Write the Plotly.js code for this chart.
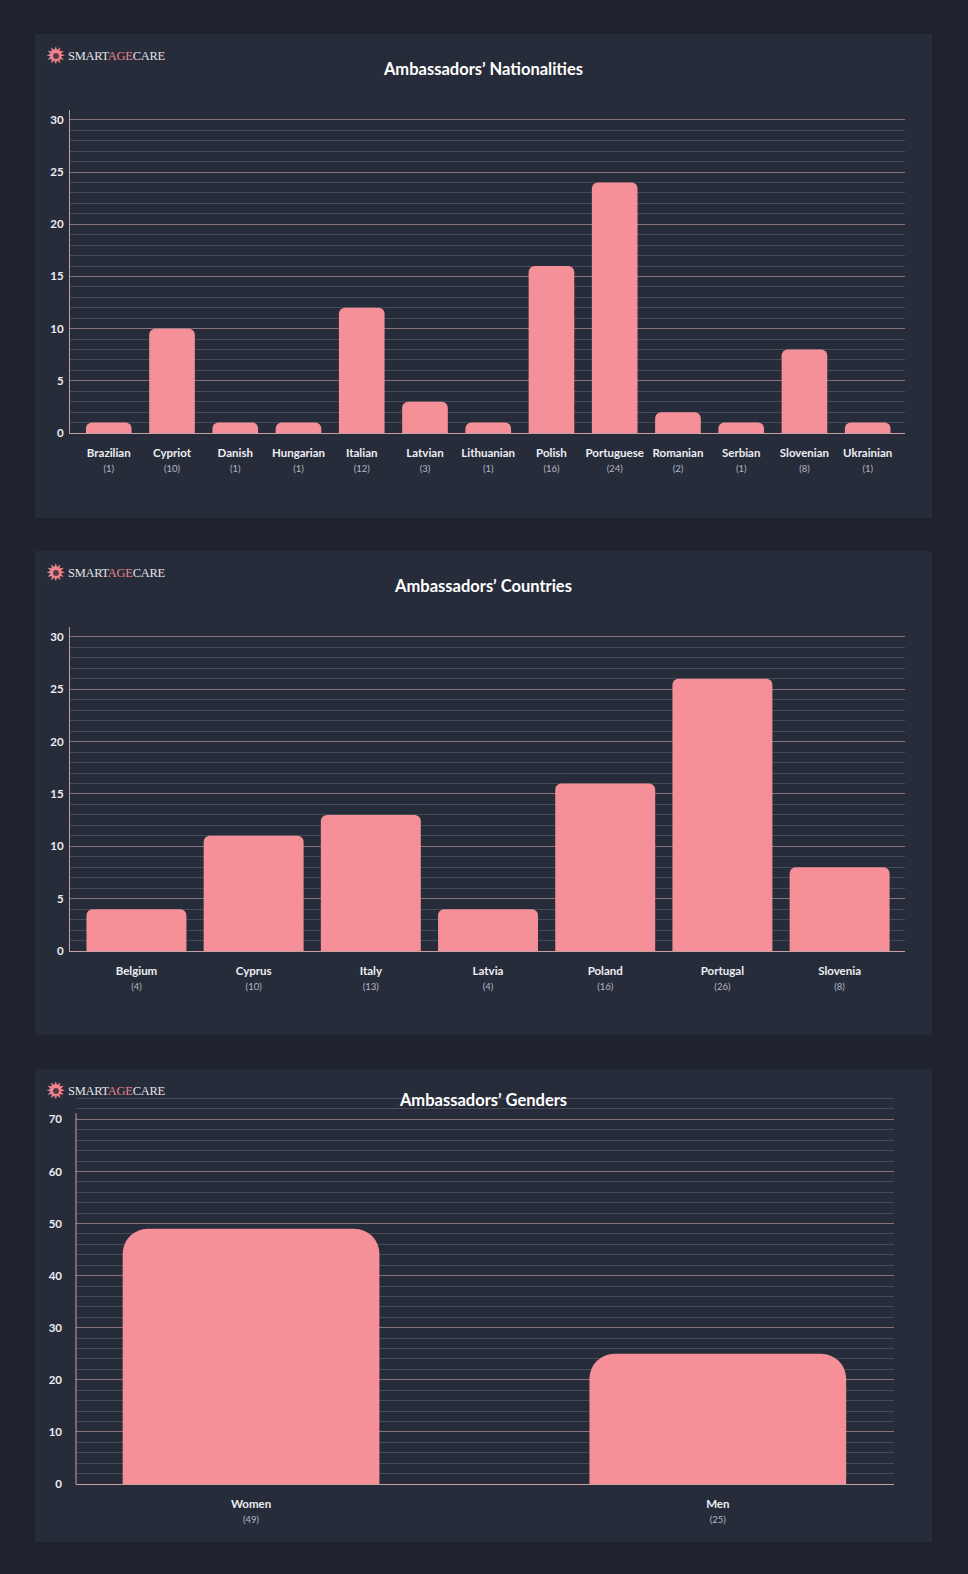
<!DOCTYPE html>
<html>
<head>
<meta charset="utf-8">
<script src="https://cdn.plot.ly/plotly-3.0.1.min.js"></script>
<style>
  html, body { margin:0; padding:0; background:#1f232d; width:968px; height:1574px; overflow:hidden; }
  .card { position:absolute; left:35px; width:897px; background:#272c3a; }
  .logo { position:absolute; left:10px; top:11px; height:22px; display:flex; align-items:center; z-index:5; pointer-events:none; }
  .flower { position:relative; width:21px; height:22px; color:#f0868f; font-family:'DejaVu Sans'; font-size:24px; line-height:22px; text-align:center; }
  .flower .dot { position:absolute; left:7.5px; top:8px; width:6px; height:6px; border-radius:3px; background:#5b3a48; }
  .brand { margin-left:2px; font-family:'Liberation Serif', 'DejaVu Serif', serif; font-size:12.5px; letter-spacing:-0.3px; color:#e2e2e6; }
  .brand .age { color:#e9848c; }
</style>
</head>
<body>
<div class="card" id="card1" style="top:34px;height:484px;">
  <div class="logo"><div class="flower">✹<div class="dot"></div></div><div class="brand">SMART<span class="age">AGE</span>CARE</div></div>
  <div id="chart1"></div>
</div>
<div class="card" id="card2" style="top:551px;height:484px;">
  <div class="logo"><div class="flower">✹<div class="dot"></div></div><div class="brand">SMART<span class="age">AGE</span>CARE</div></div>
  <div id="chart2"></div>
</div>
<div class="card" id="card3" style="top:1069px;height:473px;">
  <div class="logo"><div class="flower">✹<div class="dot"></div></div><div class="brand">SMART<span class="age">AGE</span>CARE</div></div>
  <div id="chart3"></div>
</div>
<script>
// ---- Data ----
const nationalityCategories = ['Brazilian','Cypriot','Danish','Hungarian','Italian','Latvian','Lithuanian','Polish','Portuguese','Romanian','Serbian','Slovenian','Ukrainian'];
const nationalityValues = [1, 10, 1, 1, 12, 3, 1, 16, 24, 2, 1, 8, 1];
const nationalityCounts = [1, 10, 1, 1, 12, 3, 1, 16, 24, 2, 1, 8, 1];

const countryCategories = ['Belgium','Cyprus','Italy','Latvia','Poland','Portugal','Slovenia'];
const countryValues = [4, 11, 13, 4, 16, 26, 8];
const countryCounts = [4, 10, 13, 4, 16, 26, 8];

const genderCategories = ['Women','Men'];
const genderValues = [49, 25];
const genderCounts = [49, 25];

const titles = ['Ambassadors’ Nationalities', 'Ambassadors’ Countries', 'Ambassadors’ Genders'];

// ---- Style ----
const BAR = '#f58f98';
const MAJOR = '#8a727a';
const MINOR = '#474a58';
const AXIS = '#c99ea1';
const CARD = '#272c3a';
const FONT = 'Lato, "Open Sans", sans-serif';

function tickLabels(cats, counts) {
  return cats.map((c, i) => '<b>' + c + '</b><br><span style="font-size:9.5px;color:#b4b7c2">(' + counts[i] + ')</span>');
}

function makeLayout(opts) {
  return {
    width: 897, height: opts.height,
    paper_bgcolor: CARD, plot_bgcolor: 'rgba(0,0,0,0)',
    margin: opts.margin,
    font: { family: FONT, color: '#eeeef2' },
    showlegend: false,
    title: { text: opts.title, font: { family: FONT, size: 16.5, weight: 'bold', color: '#ffffff' },
             x: 0.5, xanchor: 'center', xref: 'container', y: 1 - opts.titleY / opts.height, yanchor: 'middle', yref: 'container' },
    xaxis: {
      type: 'category', range: opts.xrange, tickmode: 'array', tickvals: opts.cats, ticktext: opts.ticks,
      showline: true, linecolor: AXIS, linewidth: 1, showgrid: false, zeroline: false, ticks: '',
      tickfont: { family: FONT, size: 11.5, color: '#eeeef2' }, ticklabelstandoff: opts.xstand, fixedrange: true
    },
    yaxis: {
      range: opts.yrange, tick0: 0, dtick: opts.dtick, showgrid: true, gridcolor: MAJOR, gridwidth: 1,
      minor: { tick0: 0, dtick: opts.minor, showgrid: true, gridcolor: MINOR, gridwidth: 1 },
      showline: opts.yline, linecolor: AXIS, linewidth: 1, zeroline: false, ticks: '',
      tickfont: { family: FONT, size: 11.5, weight: 'bold', color: '#eeeef2' }, ticklabelstandoff: opts.ystand, fixedrange: true
    },
    bargap: opts.bargap,
    barcornerradius: opts.radius,
    shapes: opts.shapes || []
  };
}

const config = { displayModeBar: false, staticPlot: true };

Plotly.newPlot('chart1', [{
  type: 'bar', x: nationalityCategories, y: nationalityValues, marker: { color: BAR }, hoverinfo: 'none'
}], makeLayout({
  height: 484, margin: { l: 34.5, r: 26.5, t: 76, b: 85 }, title: titles[0], titleY: 35,
  cats: nationalityCategories, ticks: tickLabels(nationalityCategories, nationalityCounts),
  xrange: [-0.613, 12.59], yrange: [0, 30.95], dtick: 5, minor: 1, yline: true,
  bargap: 0.278, radius: 6, xstand: 9, ystand: 3
}), config);

Plotly.newPlot('chart2', [{
  type: 'bar', x: countryCategories, y: countryValues, marker: { color: BAR }, hoverinfo: 'none'
}], makeLayout({
  height: 484, margin: { l: 34.5, r: 26.5, t: 76, b: 84 }, title: titles[1], titleY: 35,
  cats: countryCategories, ticks: tickLabels(countryCategories, countryCounts),
  xrange: [-0.567, 6.558], yrange: [0, 30.95], dtick: 5, minor: 1, yline: true,
  bargap: 0.147, radius: 6, xstand: 9, ystand: 3
}), config);

Plotly.newPlot('chart3', [{
  type: 'bar', x: genderCategories, y: genderValues, marker: { color: BAR }, hoverinfo: 'none'
}], makeLayout({
  height: 473, margin: { l: 40.7, r: 38, t: 28, b: 57.5 }, title: titles[2], titleY: 31.5,
  cats: genderCategories, ticks: tickLabels(genderCategories, genderCounts),
  xrange: [-0.375, 1.3775], yrange: [0, 74.3], dtick: 10, minor: 2, yline: false,
  bargap: 0.45, radius: 25, xstand: 9, ystand: 13,
  shapes: [{ type: 'line', xref: 'paper', yref: 'y', x0: 0, x1: 0, y0: 0, y1: 71.2, line: { color: AXIS, width: 1 }, layer: 'above' }]
}), config);
</script>
</body>
</html>
